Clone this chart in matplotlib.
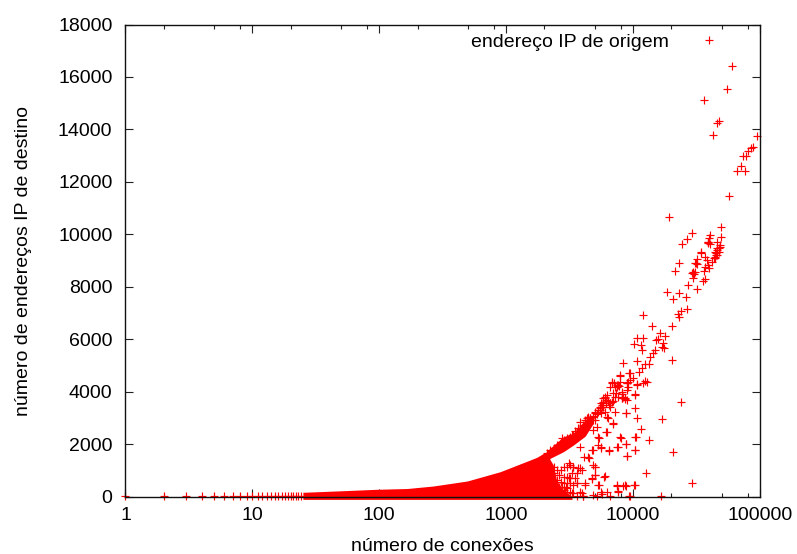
#!/usr/bin/env python3

import matplotlib
matplotlib.use('Agg')
import matplotlib.pyplot as plt
from matplotlib.ticker import NullFormatter

plt.rcParams['font.family'] = ['Liberation Sans', 'DejaVu Sans']

x_ticks = [1, 10, 100, 1000, 10000, 100000]
x_labels = ['1', '10', '100', '1000', '10000', '100000']
x_minor = [2, 5, 8, 20, 50, 80, 200, 500, 800, 2000, 5000, 8000, 20000, 50000, 80000]
y_ticks = [0, 2000, 4000, 6000, 8000, 10000, 12000, 14000, 16000, 18000]

# single connection counts, nothing merged yet
low_x = [1, 2, 3, 4, 5, 6, 7, 8, 9, 10, 11, 12, 13, 14, 15, 16, 17, 18, 19, 20, 21, 22, 23, 24]
low_y = [1, 1, 1, 1, 2, 2, 2, 3, 3, 3, 3, 4, 4, 4, 5, 5, 5, 5, 6, 6, 6, 6, 7, 7]

# the solid mass where single markers can't be told apart
band_x = [25, 52, 96, 166, 266, 493, 897, 1545, 1745, 1970, 2090, 2220, 2350, 2500, 2830, 3190, 3300]
band_top = [160, 221, 275, 305, 400, 591, 946, 1393, 1495, 1648, 1710, 1400, 1200, 600, 250, 60, 0]
band_bottom = [-110, -110, -110, -110, -110, -110, -110, -110, -110, -110, -110, -110, -110, -110, -110, -110, -110]

# the start of the curve is solid too
ridge_x = [2090, 2830, 3390, 4190, 4870]
ridge_top = [1737, 2283, 2410, 2918, 3100]
ridge_bottom = [1393, 1711, 1965, 2300, 2800]

# top right, sparse
upper_x = [59800, 55260, 36000, 47260, 46130, 42630, 95200, 87500, 85350,
           79880, 77530, 73900, 70800, 65480, 76600, 57340, 19200, 49600, 28970,
           26620, 24300, 49600, 40630, 39640, 38710, 39200, 46130, 48400, 47260,
           45800, 44000, 34300, 44800, 36900, 44500, 32100, 48000, 46000, 44800,
           34500, 44500, 31340, 32100, 22880, 21280, 39200, 37100, 39900, 36200,
           29850, 30400, 29850, 37000, 35400, 27260, 31740, 18630, 23160, 20780,
           26290, 26620, 24000, 22700, 23160, 12060, 14190, 20160, 16310, 17950,
           15630, 15160, 17100, 16800, 17500, 14900, 14250, 13700, 13300, 12430,
           10690, 11920, 10180, 11600, 11800, 20400, 31000, 29000, 31000, 43300,
           41900, 38400, 46000, 47200, 39200, 40300]
upper_y = [16407, 15543, 15136, 14310, 14247, 13802, 13738, 13344, 13306,
           13179, 12988, 12988, 12620, 12416, 12429, 11463, 10675, 10294, 10040,
           9811, 9620, 9913, 9976, 9849, 9722, 9658, 9722, 9531, 9468,
           9404, 9341, 9341, 9213, 9125, 9086, 9048, 9592, 9465, 9275,
           9300, 9147, 8919, 8868, 8893, 8588, 8830, 8766, 8703, 8614,
           8550, 8474, 8347, 8283, 8232, 8067, 7915, 7813, 7750, 7521,
           7622, 7152, 7089, 6961, 6860, 6911, 6504, 6516, 6224, 6122,
           5995, 5970, 5843, 5690, 5652, 5589, 5462, 5309, 5055, 5055,
           6034, 6034, 5818, 5779, 5589, 5207, 8893, 8512, 8576, 9084,
           8957, 9020, 9211, 9338, 9719, 9630]

# the thick curve going up from the mass
curve_x = [2090, 2220, 2360, 2510, 2680, 2750, 2830, 3000, 3190, 3290,
           3390, 3600, 3710, 3820, 4060, 4190, 4310, 4450, 4580, 4870,
           5020, 5330, 5490, 5660, 5840, 6010, 6200, 6590, 6790, 6400,
           7000, 7210, 6790, 7660, 7900, 8920, 9200, 8150, 8650, 8920,
           10370, 10690, 2661, 2825, 2990, 3200, 3380, 3610, 3825, 4060,
           4300, 4560, 4870, 5160, 5470, 5840, 6150, 6600, 2900, 3100,
           3500, 3950, 4450, 5000, 5650, 6300, 7000, 7200, 5620, 5840,
           6150, 6600, 5470, 6000, 5270, 4560, 4360, 3825, 4150, 4870,
           5160, 5000]
curve_y = [1648, 1775, 1838, 1965, 2092, 2220, 2156, 2220, 2283, 2347,
           2347, 2410, 2601, 2537, 2728, 2918, 2982, 3046, 2918, 2918,
           3236, 3300, 3363, 3490, 3617, 3745, 3872, 3554, 3617, 3490,
           3935, 4190, 4317, 4253, 4634, 4317, 4698, 3745, 3745, 3681,
           3872, 4253, 1903, 2004, 2094, 2221, 2284, 2411, 2564, 2691,
           2818, 2983, 3072, 3148, 3301, 3428, 3555, 3555, 2130, 2120,
           2480, 2620, 2920, 3200, 3420, 3650, 3640, 3800, 3555, 3746,
           3682, 3428, 3428, 3237, 3237, 2983, 2793, 2856, 2729, 2538,
           2665, 2920]

# under the curve, towards the right
mid_x = [8390, 10690, 11700, 11200, 9470, 7900, 12960, 9130, 10690, 7126,
         7530, 8913, 10400, 8640, 8120, 6016, 7240, 8730, 10300, 16810,
         23860, 7000, 6300, 5620, 4870, 4360, 11600, 6150, 5370, 7890,
         8730, 10400, 13440, 7530, 10300, 20780, 6400, 5620, 4870, 3825,
         8913, 4470, 4130, 5000, 3825, 3100, 3380, 12660, 5920, 5000,
         4720, 3610, 3200, 28970, 10250, 8730, 8270, 7530, 7660, 5340,
         5620, 4200, 3610, 6600, 5180, 9200, 16700, 4010, 3810, 2950, 3300,
         12430, 12000, 7380, 7800, 8200, 9900, 6600, 6860, 7460,
         7850, 8120, 8390, 7640, 8913, 9130, 9470]
mid_y = [5080, 5157, 4890, 4737, 4699, 4610, 4381, 4381, 4292, 4343,
         4191, 4063, 3898, 3708, 3746, 3809, 3237, 3174, 3364, 2945,
         3619, 2754, 3009, 3174, 3047, 2920, 2576, 2475, 2221, 2259,
         2005, 2284, 2144, 1903, 1776, 1699, 1750, 1877, 1776, 1903,
         1547, 1458, 1522, 1140, 1077, 1267, 1140, 911, 759, 822,
         657, 886, 695, 505, 441, 416, 403, 403, 225, 441,
         187, 441, 505, 22, 22, 22, 22, 22, 187, 378, 127,
         4410, 4320, 3950, 4230, 3900, 4520, 4191, 4381, 4254,
         4381, 4000, 3809, 3809, 4318, 4191, 4445]

# bottom of the fan, just right of the mass
fan_x = [3000, 3190, 2830, 3390, 3710, 3940, 3100, 3190, 3000, 3600,
         4190, 4720, 5020, 6010, 4870, 5020, 4450, 4720, 5330, 5560,
         6400, 5330, 6200, 7000, 6280, 7990, 7660, 8810, 8920, 10370,
         10560, 8810, 10690, 5330, 7440, 8650, 10370, 2510, 2360, 2220,
         2150, 2680, 2510, 2290, 2750, 2920, 3600, 4060, 4870, 5660,
         6200, 7660, 9470, 3940, 2220, 2220, 2360, 2360, 2440, 2590,
         2590, 2680, 2830, 2830, 2830, 3000, 3000, 3190, 3390, 3390,
         3290, 3490]
fan_y = [1139, 1203, 1139, 1139, 1076, 1012, 694, 504, 504, 504,
         504, 694, 821, 783, 1203, 1139, 1520, 1775, 1965, 1838,
         1775, 2283, 2474, 2791, 3046, 2245, 1902, 2003, 1546, 1775,
         2283, 3173, 2982, 440, 440, 440, 440, 1012, 1139, 1139,
         885, 1012, 631, 504, 377, 186, 20, 20, 60, 100,
         186, 186, 20, 122, 758, 377, 885, 440, 186, 821,
         377, 567, 758, 504, 249, 758, 313, 186, 122, 440,
         885, 694]

if __name__ == "__main__":
    fig = plt.figure(figsize = (7.97, 5.54), dpi = 100)
    ax = fig.add_axes([125.5 / 797, 1 - 496.5 / 554, (760 - 125.5) / 797, 472 / 554])

    ax.fill_between(band_x, band_bottom, band_top, color = '#ff0000', linewidth = 0,
                    clip_on = False, zorder = 2)
    ax.fill_between(ridge_x, ridge_bottom, ridge_top, color = '#ff0000', linewidth = 0, zorder = 2)

    style = dict(linestyle = 'none', marker = '+', markersize = 5.2, markeredgewidth = 0.85,
                 color = '#ff0000', clip_on = False, zorder = 2)
    ax.plot(upper_x, upper_y, label = 'endereço IP de origem', **style)
    ax.plot(low_x, low_y, **style)
    ax.plot(curve_x, curve_y, **style)
    ax.plot(mid_x, mid_y, **style)
    ax.plot(fan_x, fan_y, **style)

    ax.set_xscale('log')
    ax.set_xlim(1, 100000)
    ax.set_ylim(0, 18000)
    ax.set_xticks(x_ticks)
    ax.set_xticklabels(x_labels)
    ax.set_xticks(x_minor, minor = True)
    ax.xaxis.set_minor_formatter(NullFormatter())
    ax.set_yticks(y_ticks)
    ax.tick_params(axis = 'both', which = 'major', direction = 'in', length = 5.5, width = 0.8,
                   top = True, right = True, labelsize = 14, color = '#222222')
    ax.tick_params(axis = 'x', which = 'major', pad = 7.5)
    ax.tick_params(axis = 'y', which = 'major', pad = 9.4)
    ax.tick_params(axis = 'x', which = 'minor', direction = 'in', length = 2.8, width = 0.8,
                   top = True, color = '#222222')
    for s in ax.spines.values():
        s.set_linewidth(1.0)
        s.set_color('#111111')
        s.set_zorder(5)

    ax.set_xlabel('número de conexões', fontsize = 14, labelpad = 10)
    ax.set_ylabel('número de endereços IP de destino', fontsize = 14, labelpad = 18.5)
    ax.legend(loc = 'upper right', frameon = False, markerfirst = False, fontsize = 14,
              handlelength = 3.12, handletextpad = 0.5, borderaxespad = 0, borderpad = 0,
              bbox_to_anchor = (0.9674, 0.981))

    fig.savefig('out.png', dpi = 100)
